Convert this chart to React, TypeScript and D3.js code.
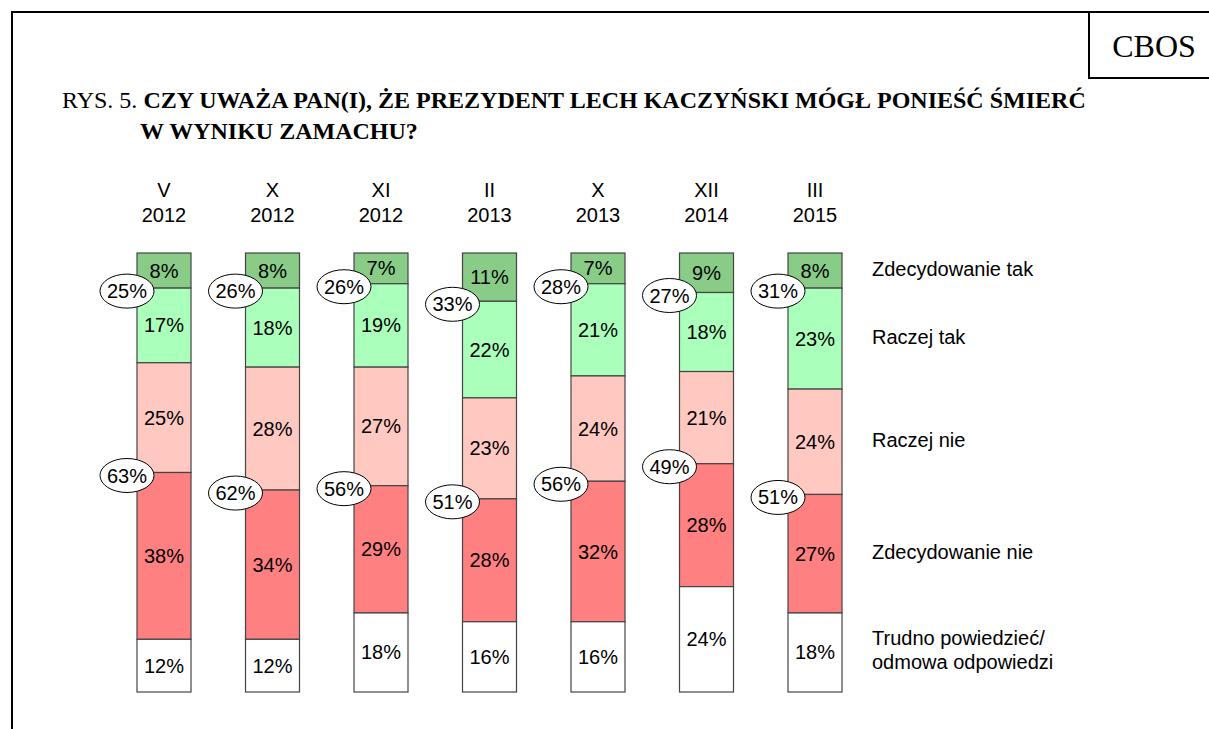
import React from "react";
import * as d3 from "d3";

const months = ["V", "X", "XI", "II", "X", "XII", "III"];
const years = ["2012", "2012", "2012", "2013", "2013", "2014", "2015"];

// answer shares per survey, top to bottom of the bar
const zdecTak = [8, 8, 7, 11, 7, 9, 8];
const raczejTak = [17, 18, 19, 22, 21, 18, 23];
const raczejNie = [25, 28, 27, 23, 24, 21, 24];
const zdecNie = [38, 34, 29, 28, 32, 28, 27];
const trudno = [12, 12, 18, 16, 16, 24, 18];

// totals shown in the ellipses
const sumTak = [25, 26, 26, 33, 28, 27, 31];
const sumNie = [63, 62, 56, 51, 56, 49, 51];

const seriesNames = [
  ["Zdecydowanie tak"],
  ["Raczej tak"],
  ["Raczej nie"],
  ["Zdecydowanie nie"],
  ["Trudno powiedzieć/", "odmowa odpowiedzi"],
];
const colors = ["#88cc88", "#aaffbb", "#ffc8c0", "#ff8080", "#ffffff"];

const W = 1209;
const H = 729;
const SANS = "'Liberation Sans', Arial, sans-serif";
const SERIF = "'Liberation Serif', 'Times New Roman', serif";

export default function App() {
  const series = [zdecTak, raczejTak, raczejNie, zdecNie, trudno];
  const idx = months.map((_, i) => i);

  const x = d3.scalePoint<number>().domain(idx).range([164, 815]);
  const y = d3.scaleLinear().domain([0, 100]).range([253, 692]);
  const barW = 54;

  const stacked = idx.map((i) => {
    let acc = 0;
    return series.map((s) => {
      const y0 = acc;
      acc += s[i];
      return { y0, y1: acc, v: s[i] };
    });
  });

  const last = stacked[stacked.length - 1];

  return (
    <svg
      width={W}
      height={H}
      style={{ position: "absolute", left: 0, top: 0, background: "#fff" }}
    >
      {/* frame */}
      <line x1={11} y1={12} x2={W} y2={12} stroke="#000" strokeWidth={2} />
      <line x1={12} y1={11} x2={12} y2={H} stroke="#000" strokeWidth={2} />
      <line x1={1089} y1={12} x2={1089} y2={78} stroke="#000" strokeWidth={2} />
      <line x1={1088} y1={78} x2={W} y2={78} stroke="#000" strokeWidth={2} />
      <text x={1154} y={57} textAnchor="middle" fontFamily={SERIF} fontSize={32}>
        CBOS
      </text>

      {/* title */}
      <text x={62} y={108} fontFamily={SERIF} fontSize={24}>
        <tspan>RYS. 5. </tspan>
        <tspan fontWeight="bold">
          CZY UWAŻA PAN(I), ŻE PREZYDENT LECH KACZYŃSKI MÓGŁ PONIEŚĆ ŚMIERĆ
        </tspan>
      </text>
      <text x={140} y={139} fontFamily={SERIF} fontSize={24} fontWeight="bold">
        W WYNIKU ZAMACHU?
      </text>

      {idx.map((i) => {
        const cx = x(i) as number;
        const left = cx - barW / 2;
        return (
          <g key={i} fontFamily={SANS} fontSize={20}>
            <text x={cx} y={197} textAnchor="middle">
              {months[i]}
            </text>
            <text x={cx} y={222} textAnchor="middle">
              {years[i]}
            </text>
            {stacked[i].map((seg, k) => (
              <g key={k}>
                <rect
                  x={left}
                  y={y(seg.y0)}
                  width={barW}
                  height={y(seg.y1) - y(seg.y0)}
                  fill={colors[k]}
                  stroke="#444"
                  strokeWidth={1.2}
                />
                <text
                  x={cx}
                  y={(y(seg.y0) + y(seg.y1)) / 2 + 7}
                  textAnchor="middle"
                >
                  {seg.v}%
                </text>
              </g>
            ))}
            {[
              { v: sumTak[i], at: stacked[i][0].y1 },
              { v: sumNie[i], at: stacked[i][2].y1 },
            ].map((e, k) => (
              <g key={"e" + k}>
                <ellipse
                  cx={left - 10}
                  cy={y(e.at) + 3}
                  rx={27}
                  ry={17}
                  fill="#fff"
                  stroke="#000"
                  strokeWidth={1}
                />
                <text x={left - 10} y={y(e.at) + 10} textAnchor="middle">
                  {e.v}%
                </text>
              </g>
            ))}
          </g>
        );
      })}

      {/* legend aligned with last bar segments */}
      {seriesNames.map((lines, k) => {
        const mid = (y(last[k].y0) + y(last[k].y1)) / 2;
        const lh = 24;
        const top = mid - ((lines.length - 1) * lh) / 2 + 5;
        return (
          <text key={k} fontFamily={SANS} fontSize={20} x={872}>
            {lines.map((t, j) => (
              <tspan key={j} x={872} y={top + j * lh}>
                {t}
              </tspan>
            ))}
          </text>
        );
      })}
    </svg>
  );
}
